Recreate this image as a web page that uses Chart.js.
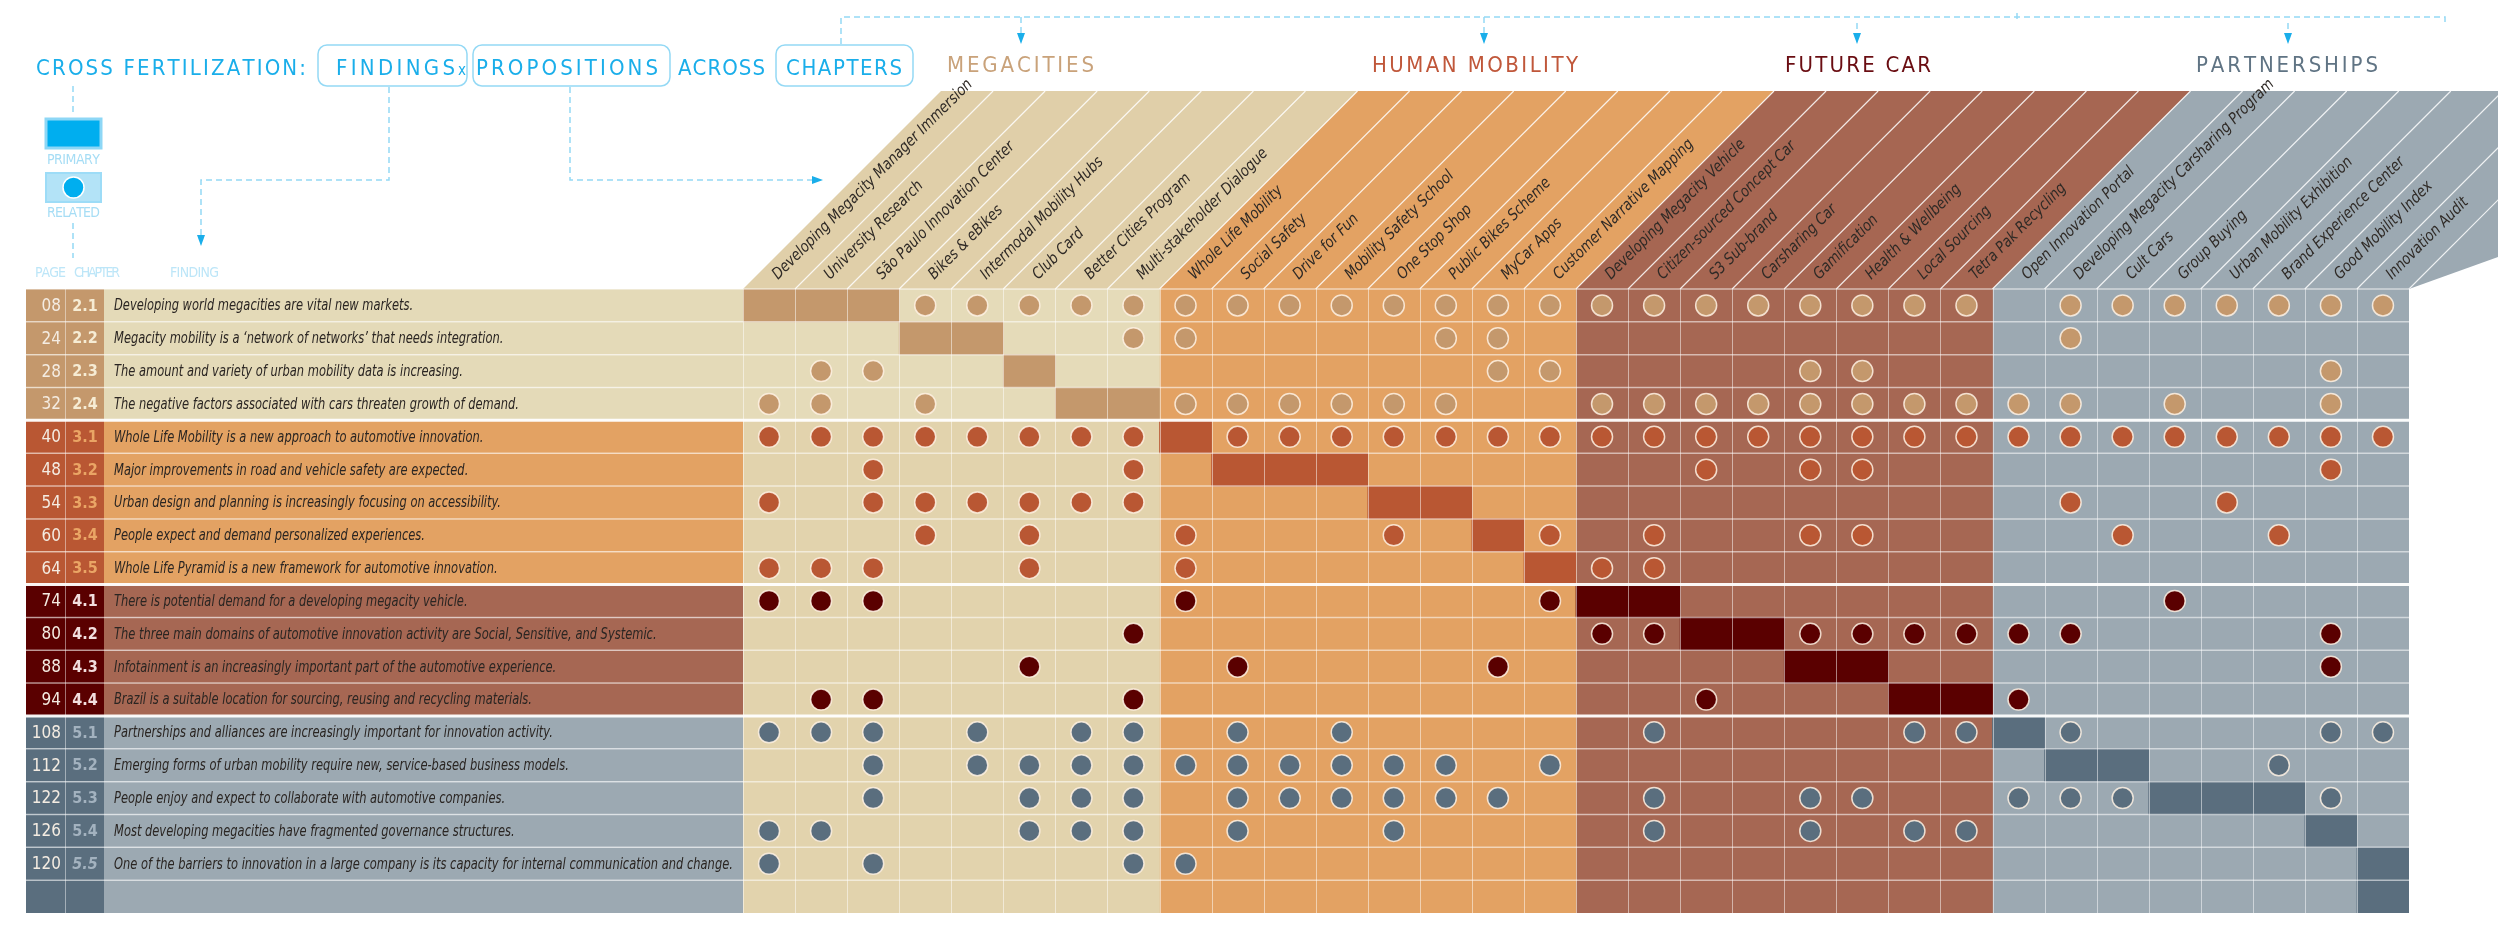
<!DOCTYPE html>
<html><head><meta charset="utf-8">
<script src="https://cdn.jsdelivr.net/npm/chart.js@4.4.1/dist/chart.umd.min.js"></script>
<style>html,body{margin:0;padding:0;background:#fff}#wrap{position:relative;width:2500px;height:925px}</style>
</head><body><div id="wrap"><canvas id="c"></canvas></div>
<script>
// ---------------- DATA ----------------
const chapterTitles = ['MEGACITIES', 'HUMAN MOBILITY', 'FUTURE CAR', 'PARTNERSHIPS'];
const megacitiesPropositions = ['Developing Megacity Manager Immersion', 'University Research', 'São Paulo Innovation Center', 'Bikes & eBikes', 'Intermodal Mobility Hubs', 'Club Card', 'Better Cities Program', 'Multi-stakeholder Dialogue'];
const humanMobilityPropositions = ['Whole Life Mobility', 'Social Safety', 'Drive for Fun', 'Mobility Safety School', 'One Stop Shop', 'Public Bikes Scheme', 'MyCar Apps', 'Customer Narrative Mapping'];
const futureCarPropositions = ['Developing Megacity Vehicle', 'Citizen-sourced Concept Car', 'S3 Sub-brand', 'Carsharing Car', 'Gamification', 'Health & Wellbeing', 'Local Sourcing', 'Tetra Pak Recycling'];
const partnershipsPropositions = ['Open Innovation Portal', 'Developing Megacity Carsharing Program', 'Cult Cars', 'Group Buying', 'Urban Mobility Exhibition', 'Brand Experience Center', 'Good Mobility Index', 'Innovation Audit'];

const chapters = ['2.1','2.2','2.3','2.4','3.1','3.2','3.3','3.4','3.5','4.1','4.2','4.3','4.4','5.1','5.2','5.3','5.4','5.5',''];
const pages = ['08','24','28','32','40','48','54','60','64','74','80','88','94','108','112','122','126','120',''];
const findings = [
  'Developing world megacities are vital new markets.',
  'Megacity mobility is a \u2018network of networks\u2019 that needs integration.',
  'The amount and variety of urban mobility data is increasing.',
  'The negative factors associated with cars threaten growth of demand.',
  'Whole Life Mobility is a new approach to automotive innovation.',
  'Major improvements in road and vehicle safety are expected.',
  'Urban design and planning is increasingly focusing on accessibility.',
  'People expect and demand personalized experiences.',
  'Whole Life Pyramid is a new framework for automotive innovation.',
  'There is potential demand for a developing megacity vehicle.',
  'The three main domains of automotive innovation activity are Social, Sensitive, and Systemic.',
  'Infotainment is an increasingly important part of the automotive experience.',
  'Brazil is a suitable location for sourcing, reusing and recycling materials.',
  'Partnerships and alliances are increasingly important for innovation activity.',
  'Emerging forms of urban mobility require new, service-based business models.',
  'People enjoy and expect to collaborate with automotive companies.',
  'Most developing megacities have fragmented governance structures.',
  'One of the barriers to innovation in a large company is its capacity for internal communication and change.',
  ''
];
// proposition indices (0..31) per finding row
const primary = [
  [0,1,2],[3,4],[5],[6,7],
  [8],[9,10,11],[12,13],[14],[15],
  [16,17],[18,19],[20,21],[22,23],
  [24],[25,26],[27,28,29],[30],[31],[31]
];
const related = [
  [3,4,5,6,7,8,9,10,11,12,13,14,15,16,17,18,19,20,21,22,23,25,26,27,28,29,30,31],
  [7,8,13,14,25],
  [1,2,14,15,20,21,30],
  [0,1,3,8,9,10,11,12,13,16,17,18,19,20,21,22,23,24,25,27,30],
  [0,1,2,3,4,5,6,7,9,10,11,12,13,14,15,16,17,18,19,20,21,22,23,24,25,26,27,28,29,30,31],
  [2,7,18,20,21,30],
  [0,2,3,4,5,6,7,25,28],
  [3,5,8,12,15,17,20,21,26,29],
  [0,1,2,5,8,16,17],
  [0,1,2,8,15,27],
  [7,16,17,20,21,22,23,24,25,30],
  [5,9,14,30],
  [1,2,7,18,24],
  [0,1,2,4,6,7,9,11,17,22,23,25,30,31],
  [2,4,5,6,7,8,9,10,11,12,13,15,29],
  [2,5,6,7,9,10,11,12,13,14,17,20,21,24,25,26,30],
  [0,1,5,6,7,9,12,17,20,22,23],
  [0,2,7,8],
  []
];

// ---------------- STYLE ----------------
const groupDark  = ['#c4986c','#b95733','#5a0000','#5a6e7e'];
const groupLight = ['#e4dab8','#e3a263','#a66753','#9ca9b2'];
const chapterInk = ['#f6ecd4','#eaa565','#f2dede','#a3b2bf'];
const columnColors = ['#e3d5b0','#e3a263','#a66753','#9ca9b2'];
const headerColors = ['#e0cfa9','#e3a263','#a66652','#9ca9b2'];
const titleInk = ['#c9a27a','#c0573a','#6a0d12','#607484'];
const CYAN = '#1aaeea', CYAN_LIGHT = '#94d9f5', CYAN_PALE = '#b3e3f7';
const NARROW_ITALIC = 'italic 15px "DejaVu Sans Condensed", "DejaVu Sans", sans-serif';

const propositionGroups = [megacitiesPropositions, humanMobilityPropositions, futureCarPropositions, partnershipsPropositions];
const propositions = [].concat(...propositionGroups);
const groupSpans = [];
{ let s = 0; propositionGroups.forEach(g => { groupSpans.push([s, s + g.length]); s += g.length; }); }
const rowGroup = chapters.map(c => c ? (parseInt(c[0], 10) - 2) : 3);
const groupOfLabel = lbl => rowGroup[chapters.indexOf(lbl)];

// ---------------- HELPERS ----------------
const HEADER_TOP = 91;
const LABEL_LEFT = 26, PAGE_RIGHT = 65, CHAP_RIGHT = 104, TEXT_X = 114;

function spaced(ctx, text, x, y, targetW, align) {
  const chars = [...text];
  const w = chars.map(ch => ctx.measureText(ch).width);
  const nat = w.reduce((a, b) => a + b, 0);
  const sp = chars.length > 1 ? (targetW - nat) / (chars.length - 1) : 0;
  let cx = align === 'center' ? x - targetW / 2 : x;
  ctx.textAlign = 'left';
  chars.forEach((ch, i) => { ctx.fillText(ch, cx, y); cx += w[i] + sp; });
}
function narrowText(ctx, text, x, y, sx) {
  ctx.save(); ctx.translate(x, y); ctx.scale(sx, 1); ctx.fillText(text, 0, 0); ctx.restore();
}
function dashed(ctx, pts) {
  ctx.save();
  ctx.strokeStyle = CYAN_LIGHT; ctx.lineWidth = 1.5; ctx.setLineDash([6, 4]);
  ctx.beginPath(); ctx.moveTo(pts[0][0], pts[0][1]);
  for (let i = 1; i < pts.length; i++) ctx.lineTo(pts[i][0], pts[i][1]);
  ctx.stroke(); ctx.restore();
}
function arrowDown(ctx, x, y) {
  ctx.fillStyle = CYAN; ctx.beginPath();
  ctx.moveTo(x - 4, y - 11); ctx.lineTo(x + 4, y - 11); ctx.lineTo(x, y); ctx.closePath(); ctx.fill();
}
function arrowRight(ctx, x, y) {
  ctx.fillStyle = CYAN; ctx.beginPath();
  ctx.moveTo(x - 11, y - 4); ctx.lineTo(x - 11, y + 4); ctx.lineTo(x, y); ctx.closePath(); ctx.fill();
}
function roundBox(ctx, x, y, w, h, r) {
  ctx.beginPath(); ctx.roundRect(x, y, w, h, r); ctx.stroke();
}

function drawTitle(ctx) {
  ctx.save();
  ctx.fillStyle = CYAN; ctx.textBaseline = 'alphabetic';
  ctx.font = '22px "DejaVu Sans Condensed", "DejaVu Sans", sans-serif';
  spaced(ctx, 'CROSS FERTILIZATION:', 36, 75, 270);
  spaced(ctx, 'FINDINGS', 336, 75, 119);
  spaced(ctx, 'PROPOSITIONS', 476, 75, 182);
  spaced(ctx, 'ACROSS', 678, 75, 87);
  spaced(ctx, 'CHAPTERS', 786, 75, 116);
  ctx.font = '15px "DejaVu Sans Condensed", sans-serif';
  ctx.fillText('x', 458, 75);
  ctx.strokeStyle = CYAN_LIGHT; ctx.lineWidth = 1.5;
  roundBox(ctx, 318, 45, 149, 41, 9);
  roundBox(ctx, 473, 45, 197, 41, 9);
  roundBox(ctx, 776, 45, 137, 41, 9);
  // chapter titles
  ctx.font = '22px "DejaVu Sans Condensed", "DejaVu Sans", sans-serif';
  const tpos = [[947, 147], [1372, 206], [1785, 146], [2196, 182]];
  chapterTitles.forEach((t, i) => { ctx.fillStyle = titleInk[i]; spaced(ctx, t, tpos[i][0], 72, tpos[i][1]); });
  // legend
  ctx.fillStyle = '#00aeef'; ctx.fillRect(46, 119, 55, 29);
  ctx.strokeStyle = '#8dd7f6'; ctx.lineWidth = 3; ctx.strokeRect(46, 119, 55, 29);
  ctx.fillStyle = CYAN_PALE; ctx.fillRect(46, 173, 55, 29);
  ctx.strokeStyle = '#9ddcf7'; ctx.lineWidth = 2; ctx.strokeRect(46, 173, 55, 29);
  ctx.fillStyle = '#00aeef'; ctx.beginPath(); ctx.arc(73.5, 187.5, 10.5, 0, Math.PI * 2); ctx.fill();
  ctx.strokeStyle = '#fff'; ctx.lineWidth = 1.5; ctx.stroke();
  ctx.fillStyle = '#a6ddf5';
  ctx.font = '14px "DejaVu Sans Condensed", sans-serif';
  spaced(ctx, 'PRIMARY', 47, 164, 53);
  spaced(ctx, 'RELATED', 47, 217, 53);
  ctx.fillStyle = '#bde6f8';
  spaced(ctx, 'PAGE', 35, 277, 31);
  spaced(ctx, 'CHAPTER', 74, 277, 46);
  spaced(ctx, 'FINDING', 170, 277, 49);
  // dashed connectors
  dashed(ctx, [[73, 86], [73, 114]]);
  dashed(ctx, [[73, 223], [73, 258]]);
  dashed(ctx, [[389, 87], [389, 180], [201, 180], [201, 236]]);
  arrowDown(ctx, 201, 246);
  dashed(ctx, [[570, 87], [570, 180], [812, 180]]);
  arrowRight(ctx, 823, 180);
  dashed(ctx, [[841, 44], [841, 17], [2445, 17], [2445, 23]]);
  dashed(ctx, [[2017, 13], [2017, 21]]);
  [[1021, 17], [1484, 17], [1857, 23], [2288, 23]].forEach(([x, y]) => {
    dashed(ctx, [[x, y], [x, 35]]); arrowDown(ctx, x, 44);
  });
  ctx.restore();
}

function headerPath(ctx, x0, x1, gridTop, dx, last) {
  ctx.beginPath();
  ctx.moveTo(x0, gridTop); ctx.lineTo(x0 + dx, HEADER_TOP);
  if (last) { ctx.lineTo(2498, HEADER_TOP); ctx.lineTo(2498, 257); ctx.lineTo(x1, gridTop); }
  else { ctx.lineTo(x1 + dx, HEADER_TOP); ctx.lineTo(x1, gridTop); }
  ctx.closePath();
}

function drawHeader(ctx, chart) {
  const xs = chart.scales.x;
  const gridTop = chart.chartArea.top;
  const dx = gridTop - HEADER_TOP; // 45 degree slant
  ctx.save();
  groupSpans.forEach(([s, e], k) => {
    ctx.fillStyle = headerColors[k];
    headerPath(ctx, xs.getPixelForValue(s), xs.getPixelForValue(e), gridTop, dx, k === groupSpans.length - 1);
    ctx.fill();
  });
  ctx.save();
  headerPath(ctx, xs.getPixelForValue(0), xs.getPixelForValue(propositions.length), gridTop, dx, true);
  ctx.clip();
  ctx.strokeStyle = 'rgba(255,255,255,0.85)'; ctx.lineWidth = 1.2;
  for (let i = 1; i <= propositions.length; i++) {
    const x = xs.getPixelForValue(i);
    ctx.beginPath(); ctx.moveTo(x, gridTop); ctx.lineTo(x + dx, HEADER_TOP); ctx.stroke();
  }
  ctx.restore();
  // labels
  const colW = xs.getPixelForValue(1) - xs.getPixelForValue(0);
  ctx.fillStyle = '#2f2a26';
  ctx.font = NARROW_ITALIC;
  ctx.textAlign = 'left'; ctx.textBaseline = 'alphabetic';
  propositions.forEach((p, i) => {
    const up = 9;
    const x = xs.getPixelForValue(i) + colW / 2 + up;
    const y = gridTop - up;
    ctx.save(); ctx.translate(x, y); ctx.rotate(-Math.PI / 4); ctx.scale(0.98, 1.05);
    ctx.fillText(p, 0, 0);
    ctx.restore();
  });
  ctx.restore();
}

function rowGeom(chart) {
  const ys = chart.scales.y;
  const band = ys.getPixelForValue(1) - ys.getPixelForValue(0);
  return { band, top: r => ys.getPixelForValue(r) - band / 2, mid: r => ys.getPixelForValue(r) };
}

function drawLabels(ctx, chart) {
  const g = rowGeom(chart);
  const right = chart.chartArea.left;
  ctx.save();
  chapters.forEach((c, r) => {
    const k = rowGroup[r];
    const y0 = g.top(r);
    ctx.fillStyle = groupLight[k]; ctx.fillRect(LABEL_LEFT, y0, right - LABEL_LEFT, g.band);
    ctx.fillStyle = groupDark[k]; ctx.fillRect(LABEL_LEFT, y0, CHAP_RIGHT - LABEL_LEFT, g.band);
    const ym = g.mid(r);
    ctx.textBaseline = 'middle';
    ctx.fillStyle = '#f4ece2';
    ctx.font = '17px "DejaVu Sans Condensed", sans-serif';
    ctx.textAlign = 'right'; ctx.fillText(pages[r], 61, ym + 1);
    ctx.fillStyle = chapterInk[k];
    ctx.font = (c === '5.5' ? 'italic ' : '') + 'bold 16px "DejaVu Sans Condensed", sans-serif';
    ctx.textAlign = 'center'; ctx.fillText(c, 85, ym + 1);
    ctx.fillStyle = '#2a2522';
    ctx.font = NARROW_ITALIC;
    ctx.textAlign = 'left'; narrowText(ctx, findings[r], TEXT_X, ym + 1, 0.85);
  });
  ctx.restore();
}

function drawGrid(chart) {
  const ctx = chart.ctx, xs = chart.scales.x;
  const g = rowGeom(chart);
  const top = g.top(0), bottom = chart.chartArea.bottom;
  const xEnd = xs.getPixelForValue(propositions.length);
  ctx.save();
  ctx.strokeStyle = 'rgba(255,255,255,0.5)'; ctx.lineWidth = 1;
  for (let i = 0; i < propositions.length; i++) {
    const x = Math.round(xs.getPixelForValue(i)) + 0.5;
    ctx.beginPath(); ctx.moveTo(x, top); ctx.lineTo(x, bottom); ctx.stroke();
  }
  ctx.strokeStyle = 'rgba(255,255,255,0.45)';
  ctx.beginPath(); ctx.moveTo(PAGE_RIGHT + 0.5, top); ctx.lineTo(PAGE_RIGHT + 0.5, bottom); ctx.stroke();
  for (let r = 0; r < chapters.length; r++) {
    const y = g.top(r);
    const boundary = r > 0 && rowGroup[r] !== rowGroup[r - 1];
    ctx.strokeStyle = boundary ? 'rgba(255,255,255,0.95)' : 'rgba(255,255,255,0.55)';
    ctx.lineWidth = boundary ? 3 : 1.5;
    ctx.beginPath(); ctx.moveTo(LABEL_LEFT, y); ctx.lineTo(xEnd, y); ctx.stroke();
  }
  ctx.restore();
}

const decoPlugin = {
  id: 'deco',
  beforeDraw(chart) {
    const ctx = chart.ctx;
    ctx.save(); ctx.fillStyle = '#fff'; ctx.fillRect(0, 0, chart.width, chart.height); ctx.restore();
    drawTitle(ctx);
    drawHeader(ctx, chart);
    drawLabels(ctx, chart);
  },
  beforeDatasetDraw(chart, args) {
    if (args.meta.type === 'scatter') drawGrid(chart);
  }
};

// ---------------- DATASETS ----------------
const backgroundDatasets = groupSpans.map(([s, e], k) => ({
  type: 'bar', indexAxis: 'y', grouped: false, order: 3,
  data: chapters.map(c => ({ y: c, x: [s, e] })),
  backgroundColor: k === 0 ? (ctx => (ctx.raw && groupOfLabel(ctx.raw.y) === 0) ? '#e5dbb9' : '#e2d3ad') : columnColors[k],
  borderWidth: 0, barPercentage: 1, categoryPercentage: 1
}));
const primaryData = [];
primary.forEach((cols, r) => cols.forEach(c => primaryData.push({ y: chapters[r], x: [c, c + 1] })));
const primaryDataset = {
  type: 'bar', indexAxis: 'y', grouped: false, order: 1,
  data: primaryData,
  backgroundColor: ctx => ctx.raw ? groupDark[groupOfLabel(ctx.raw.y)] : '#000',
  borderWidth: 0, barPercentage: 1, categoryPercentage: 1
};
const relatedData = [];
related.forEach((cols, r) => cols.forEach(c => relatedData.push({ x: c + 0.5, y: chapters[r] })));
const relatedDataset = {
  type: 'scatter', order: 0,
  data: relatedData,
  pointRadius: 10.5, pointHoverRadius: 10.5,
  pointBackgroundColor: ctx => ctx.raw ? groupDark[groupOfLabel(ctx.raw.y)] : '#000',
  pointBorderColor: 'rgba(255,242,228,0.85)', pointBorderWidth: 1.5,
  showLine: false
};

new Chart(document.getElementById('c'), {
  type: 'bar',
  data: { labels: chapters, datasets: [relatedDataset, primaryDataset, ...backgroundDatasets] },
  options: {
    indexAxis: 'y',
    responsive: true, maintainAspectRatio: false, animation: false, devicePixelRatio: 1,
    events: [],
    layout: { padding: { left: 743, right: 91, top: 289, bottom: -7 } },
    plugins: { legend: { display: false }, tooltip: { enabled: false } },
    scales: {
      x: { type: 'linear', min: 0, max: propositions.length, offset: false, beginAtZero: false, display: false },
      y: { type: 'category', labels: chapters, offset: true, display: false }
    }
  },
  plugins: [decoPlugin]
});
</script>
</body></html>
